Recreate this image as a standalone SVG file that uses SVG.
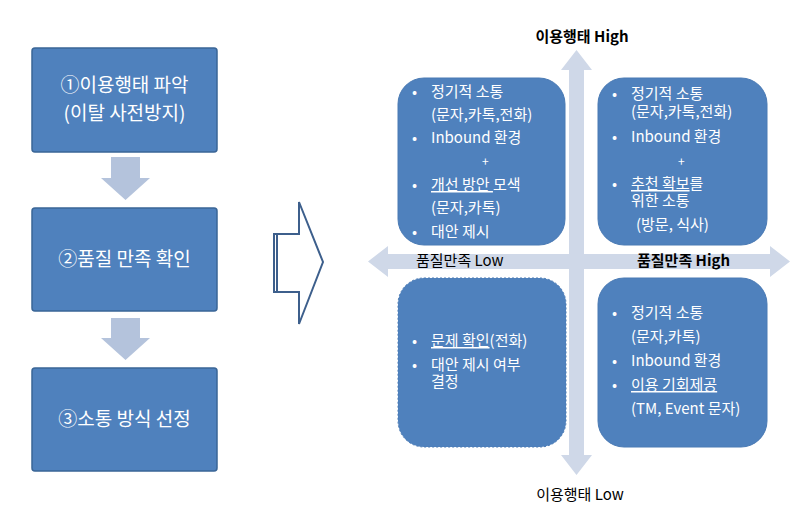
<svg xmlns="http://www.w3.org/2000/svg" width="811" height="525" viewBox="0 0 811 525">
<style>
text{font-family:"Malgun Gothic","Noto Sans CJK KR",sans-serif;}
.step{fill:#4f81bd;stroke:#3a6596;stroke-width:1.5}
.st{fill:#fff;font-size:19px;text-anchor:middle}
.q{fill:#4f81bd;stroke:#4a7ab4;stroke-width:1}
.qt{fill:#fff;font-size:15px}
.ax{fill:#cfd8e8}
.dn{fill:#b4c3dc}
.lbl{fill:#000;font-size:15px}
</style>
<g id="connectors">
<polygon class="dn" points="111,157 140,157 140,178 150,178 125.5,200 101,178 111,178"/>
<polygon class="dn" points="111,318 140,318 140,338 150,338 125.5,360 101,338 111,338"/>
<g id="bigarrow" fill="#fff" stroke="#3d5f8c" stroke-width="2">
<polygon points="274,234 299,234 299,202 323,262 299,324 299,292 274,292"/>
<line x1="277" y1="235" x2="277" y2="291" stroke-width="2"/>
</g>
<polygon class="ax" points="569,470 569,70 561,70 576.5,50 592,70 584,70 584,455 592,455 576.5,475 561,455 569,455"/>
<polygon class="ax" points="388,254 770,254 770,246 790,261.5 770,277 770,269 388,269 388,277 368,261.5 388,246"/>
</g>
<g id="step1"><rect class="step" x="32" y="48" width="185" height="104" rx="3"/><text class="st" x="124.5" y="92">①이용행태 파악</text><text class="st" x="124.5" y="120">(이탈 사전방지)</text></g>
<g id="step2"><rect class="step" x="32" y="208" width="185" height="103" rx="3"/><text class="st" x="124.5" y="266">②품질 만족 확인</text></g>
<g id="step3"><rect class="step" x="32" y="368" width="185" height="103" rx="3"/><text class="st" x="124.5" y="426">③소통 방식 선정</text></g>
<g id="tl"><rect class="q" x="398" y="78" width="167" height="167" rx="26"/>
<text class="qt"><tspan x="412" y="97">•</tspan><tspan x="431" y="97">정기적 소통</tspan><tspan x="431" y="120">(문자,카톡,전화)</tspan><tspan x="412" y="143">•</tspan><tspan x="431" y="143">Inbound 환경</tspan><tspan x="482" y="166" font-size="12">+</tspan><tspan x="412" y="190">•</tspan><tspan x="431" y="190" text-decoration="underline">개선 방안 </tspan><tspan>모색</tspan><tspan x="431" y="213">(문자,카톡)</tspan><tspan x="412" y="237">•</tspan><tspan x="431" y="237">대안 제시</tspan></text></g>
<g id="tr"><rect class="q" x="598" y="78" width="169" height="167" rx="26"/>
<text class="qt"><tspan x="612" y="99">•</tspan><tspan x="631" y="99">정기적 소통</tspan><tspan x="631" y="117">(문자,카톡,전화)</tspan><tspan x="612" y="142">•</tspan><tspan x="631" y="142">Inbound 환경</tspan><tspan x="678" y="166" font-size="12">+</tspan><tspan x="612" y="189">•</tspan><tspan x="631" y="189" text-decoration="underline">추천 확보</tspan><tspan>를</tspan><tspan x="631" y="206">위한 소통</tspan><tspan x="636" y="230">(방문, 식사)</tspan></text></g>
<g id="bl"><rect class="q" x="398" y="278" width="168" height="169" rx="26" stroke="#9fb6d8" stroke-dasharray="2,2" stroke-width="1.5"/>
<text class="qt"><tspan x="412" y="346">•</tspan><tspan x="431" y="346" text-decoration="underline">문제 확인</tspan><tspan>(전화)</tspan><tspan x="412" y="370">•</tspan><tspan x="431" y="370">대안 제시 여부</tspan><tspan x="431" y="387">결정</tspan></text></g>
<g id="br"><rect class="q" x="598" y="278" width="169" height="169" rx="26"/>
<text class="qt"><tspan x="612" y="318">•</tspan><tspan x="631" y="318">정기적 소통</tspan><tspan x="631" y="342">(문자,카톡)</tspan><tspan x="612" y="366">•</tspan><tspan x="631" y="366">Inbound 환경</tspan><tspan x="612" y="390">•</tspan><tspan x="631" y="390" text-decoration="underline">이용 기회제공</tspan><tspan x="631" y="414">(TM, Event 문자)</tspan></text></g>
<g id="labels">
<text class="lbl" x="582" y="42" text-anchor="middle" font-weight="bold">이용행태 High</text>
<text class="lbl" x="580" y="500" text-anchor="middle">이용행태 Low</text>
<text class="lbl" x="416" y="266">품질만족 Low</text>
<text class="lbl" x="637" y="266" font-weight="bold">품질만족 High</text>
</g>
</svg>
